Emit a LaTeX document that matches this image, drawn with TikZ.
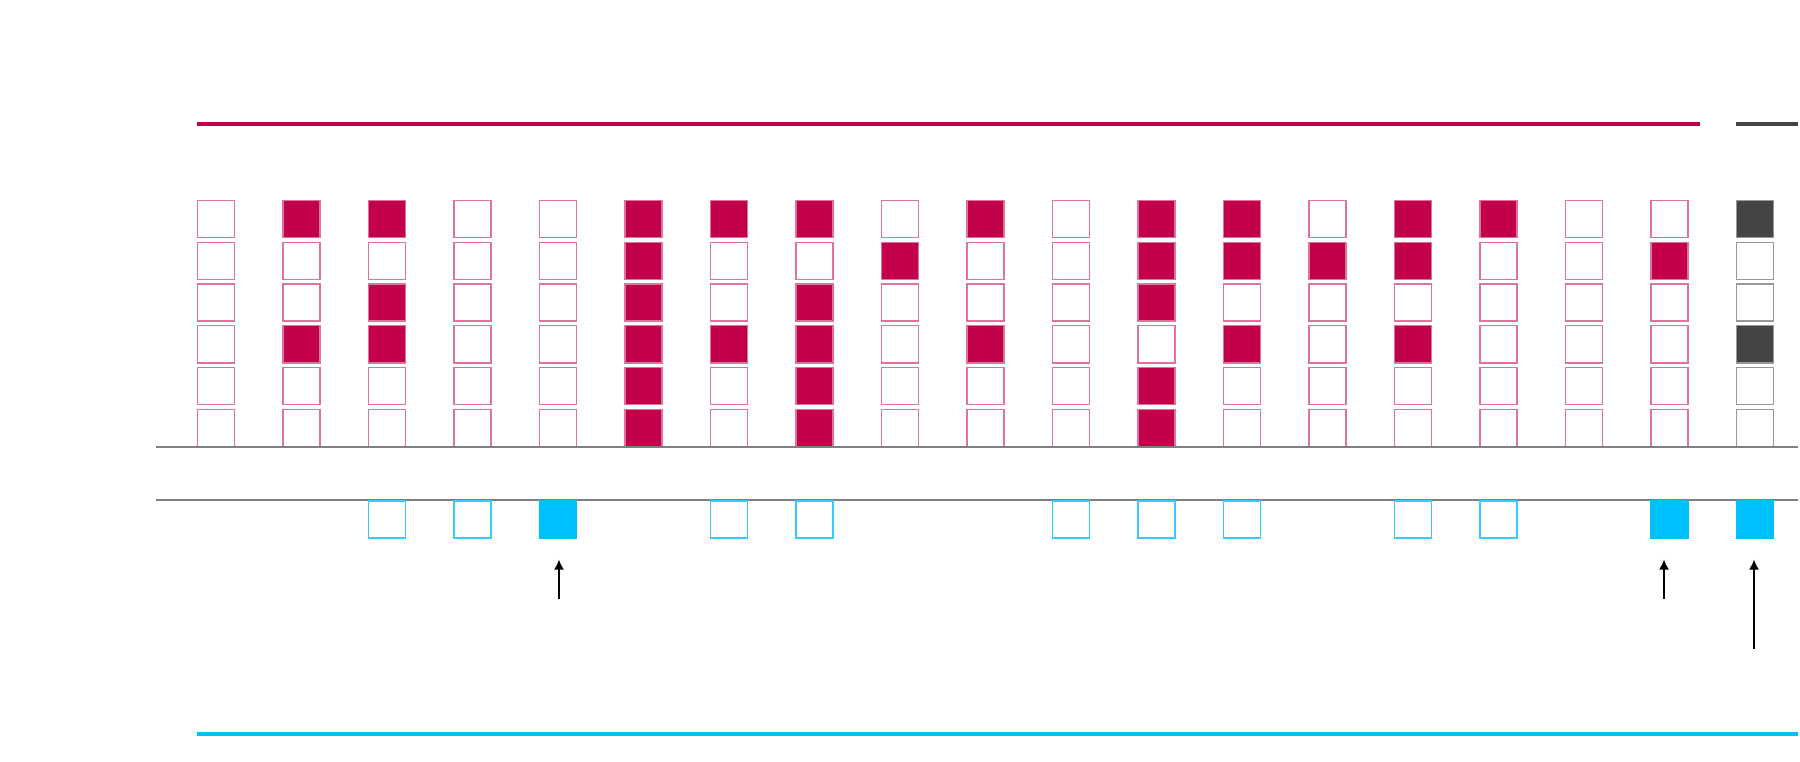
\documentclass[tikz,border=0pt]{standalone}
\usetikzlibrary{positioning,arrows.meta}
\definecolor{wine}{HTML}{C3004A}
\definecolor{ink}{HTML}{444444}
\definecolor{sky}{HTML}{00BFFF}
\definecolor{rule}{HTML}{808080}
\tikzset{%
  cell0/.style={
    draw=#1!55,
    fill=white,
    minimum size=0.37cm,
    inner sep=0pt,
    line width=0.35pt
  },
  cell1/.style={
    cell0=#1,
    fill=#1
  },
  slot0/.style={
    draw=sky!80,
    fill=white,
    minimum size=0.37cm,
    inner sep=0pt,
    line width=0.35pt
  },
  slot1/.style={
    slot0,
    draw=sky,
    fill=sky
  },
}

\begin{document}
\begin{tikzpicture}[x=0.01cm, y=-0.01cm, >={Latex[length=0.1cm, width=0.1cm]}]
    \useasboundingbox (0,0) rectangle (1800,762);

    \draw [wine, line width=1.15pt] (197,124) -- (1700,124);
    \draw [ink, line width=1.15pt] (1736,124) -- (1798,124);

    \foreach \c/\col/\p in {1/wine/{0,0,0,0,0,0}, 2/wine/{1,0,0,1,0,0},
        3/wine/{1,0,1,1,0,0}, 4/wine/{0,0,0,0,0,0}, 5/wine/{0,0,0,0,0,0},
        6/wine/{1,1,1,1,1,1}, 7/wine/{1,0,0,1,0,0}, 8/wine/{1,0,1,1,1,1},
        9/wine/{0,1,0,0,0,0}, 10/wine/{1,0,0,1,0,0}, 11/wine/{0,0,0,0,0,0},
        12/wine/{1,1,1,0,1,1}, 13/wine/{1,1,0,1,0,0}, 14/wine/{0,1,0,0,0,0},
        15/wine/{1,1,0,1,0,0}, 16/wine/{1,0,0,0,0,0}, 17/wine/{0,0,0,0,0,0},
        18/wine/{0,1,0,0,0,0}, 19/ink/{1,0,0,1,0,0}}
      \foreach \r in {1,...,6} {
        \pgfmathtruncatemacro\v{{\p}[\r-1]}
        \node [cell\v=\col] (cell-\c-\r) at (216+85.5*\c-85.5, 219+41.8*\r-41.8) {};
      }

    \draw [rule, line width=0.4pt] (156,447) -- (1798,447);
    \draw [rule, line width=0.4pt] (156,500) -- (1798,500);

    \foreach \c/\v in {3/0, 4/0, 5/1, 7/0, 8/0, 11/0, 12/0, 13/0, 15/0, 16/0, 18/1, 19/1}
      \node [slot\v] (slot-\c) at (216+85.5*\c-85.5, 519.5) {};

    \coordinate (tail-5) at (559,599);
    \coordinate (tail-18) at (1664,599);
    \coordinate (tail-19) at (1754,649);

    \foreach \c in {5,18,19}
      \draw [->, line width=0.4pt, shorten >=0.21cm] (tail-\c) -- (tail-\c |- slot-\c.south);

    \draw [sky, line width=1.15pt] (197,734) -- (1798,734);

\end{tikzpicture}
\end{document}
